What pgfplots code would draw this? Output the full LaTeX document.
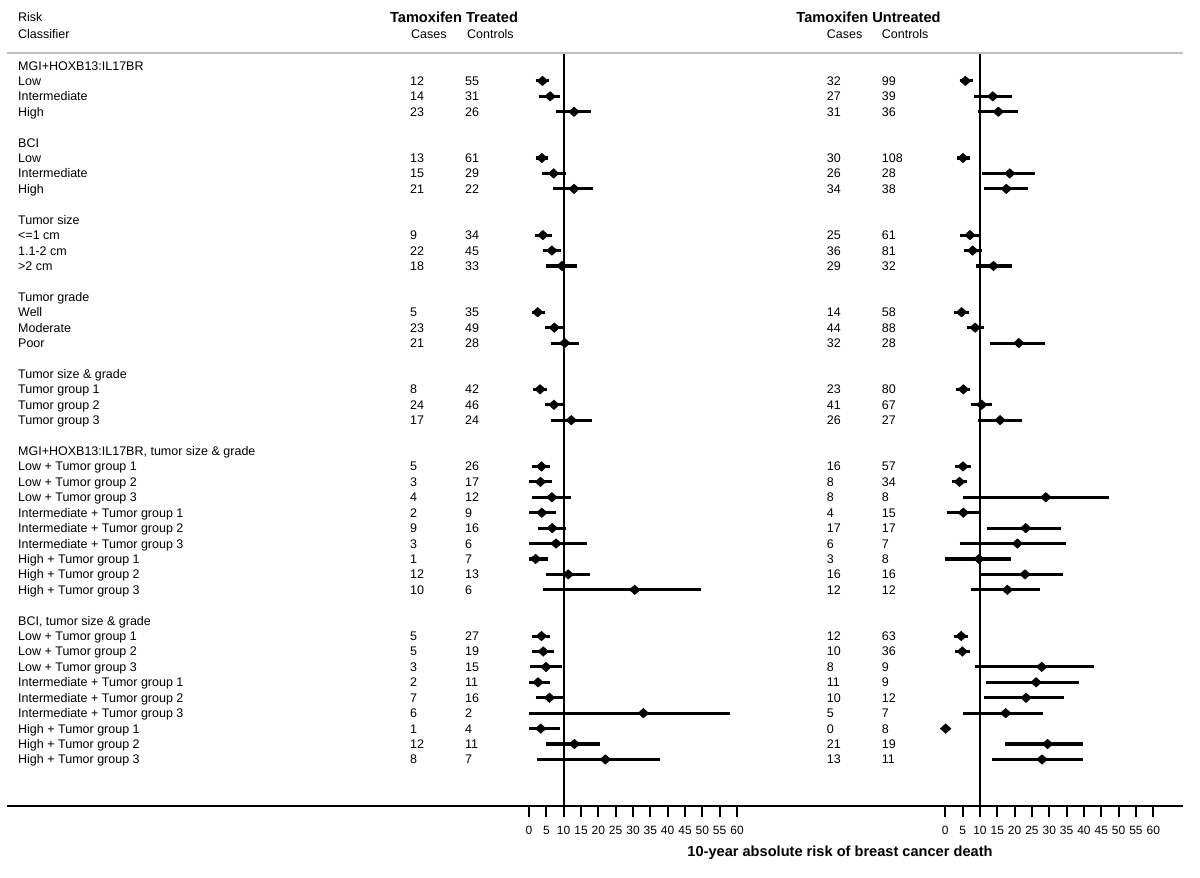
\documentclass[border=0pt]{standalone}
\usepackage{fontspec}
\setmainfont{Liberation Sans}
\usepackage{pgfplots}
\usepackage{pgfplotstable}
\pgfplotsset{compat=1.18}
\definecolor{lgray}{RGB}{192,192,192}

% row = line index from the top; est = 10-year risk (%), lo/hi = CI
\pgfplotstableread{
row est lo hi
1 3.9 1.9 5.7
2 6.1 2.9 8.9
3 13.0 7.8 17.9
6 3.7 1.9 5.5
7 7.1 3.7 10.6
8 13.0 6.9 18.6
11 4.0 1.7 6.5
12 6.6 4.0 9.2
13 9.5 5.0 13.9
16 2.5 0.9 4.5
17 7.3 4.6 9.9
18 10.3 6.3 14.5
21 3.2 1.2 5.1
22 7.2 4.6 9.9
23 12.2 6.3 18.1
26 3.6 0.9 6.0
27 3.3 0.1 6.5
28 6.6 0.9 12.0
29 3.7 0.0 7.8
30 6.7 2.5 10.8
31 7.8 0.0 16.6
32 1.9 0.0 5.4
33 11.3 5.0 17.5
34 30.5 4.1 49.7
37 3.6 0.9 6.0
38 4.1 0.9 7.2
39 4.9 0.2 9.5
40 2.6 0.0 6.0
41 5.9 1.9 9.8
42 33.0 0.0 58.1
43 3.4 0.0 8.8
44 13.1 4.8 20.5
45 22.0 2.2 37.9
}\treated

\pgfplotstableread{
row est lo hi
1 5.8 4.1 7.9
2 13.7 8.3 19.2
3 15.3 9.4 20.9
6 5.1 3.4 7.0
7 18.6 10.7 26.0
8 17.6 11.1 23.8
11 7.1 4.3 10.0
12 7.9 5.4 10.5
13 13.9 8.8 19.1
16 4.7 2.6 6.9
17 8.6 6.2 11.2
18 21.2 13.0 28.7
21 5.2 3.2 7.2
22 10.5 7.5 13.6
23 15.8 9.5 22.0
26 5.1 2.9 7.4
27 4.1 1.9 6.4
28 29.0 5.0 47.3
29 5.2 0.4 9.7
30 23.2 11.9 33.3
31 20.8 4.1 34.8
32 9.7 0.0 18.9
33 23.0 10.2 33.9
34 17.9 7.5 27.2
37 4.6 2.6 6.5
38 4.9 2.8 7.2
39 27.8 8.7 42.9
40 26.2 11.6 38.5
41 23.3 11.1 34.1
42 17.4 5.0 28.2
43 0.1 0.1 0.1
44 29.5 17.3 39.8
45 27.9 13.6 39.8
}\untreated

\pgfplotsset{forest/.style={
  scale only axis, width=208pt, height=753pt, anchor=south west,
  xmin=0, xmax=60, ymin=-48.02, ymax=0.81,
  hide y axis, axis x line=bottom, x axis line style={draw=none},
  xtick={0,5,...,60}, xtick align=outside, major tick length=11pt,
  tick style={black, line width=1.8pt},
  xticklabel style={font=\fontsize{12}{12}\selectfont, yshift=-5pt},
  /pgf/number format/assume math mode=true,
  clip=false,
}}
\pgfplotsset{cilines/.style={black, line width=3.1pt, mark=none, forget plot,
  quiver={u=\thisrow{hi}-\thisrow{lo}, v=0}}}
\pgfplotsset{points/.style={only marks, black, mark=diamond*, mark size=4.8pt,
  mark options={xscale=1.5, fill=black, draw=black}}}

\begin{document}
\fontsize{12.5}{15}\selectfont
\begin{tikzpicture}
\begin{axis}[forest, at={(529pt,-806pt)}]
  \addplot[black, line width=2pt, forget plot] coordinates {(10,-48.02) (10,0.81)};
  \addplot[cilines] table[x=lo, y expr=-\thisrow{row}] {\treated};
  \addplot[points] table[x=est, y expr=-\thisrow{row}] {\treated};
\end{axis}
\begin{axis}[forest, at={(945.3pt,-806pt)}]
  \addplot[black, line width=2pt, forget plot] coordinates {(10,-48.02) (10,0.81)};
  \addplot[cilines] table[x=lo, y expr=-\thisrow{row}] {\untreated};
  \addplot[points] table[x=est, y expr=-\thisrow{row}] {\untreated};
\end{axis}

\begin{scope}[x=1pt, y=-1pt, every node/.style={inner sep=0pt, font=\fontsize{12.5}{15}\selectfont}]
  \draw[lgray, line width=2pt] (7,52.5) -- (1183,52.5);
  \draw[black, line width=2.4pt] (7,806) -- (1183,806);

  \node[anchor=base west] at (18,21.5) {Risk};
  \node[anchor=base west] at (18,38.5) {Classifier};
  \node[anchor=base, font=\bfseries\fontsize{14.6}{16}\selectfont] at (454,22.5) {Tamoxifen Treated};
  \node[anchor=base, font=\bfseries\fontsize{14.6}{16}\selectfont] at (868.5,22.5) {Tamoxifen Untreated};
  \node[anchor=base west] at (411,38.5) {Cases};
  \node[anchor=base west] at (467,38.5) {Controls};
  \node[anchor=base west] at (826.7,38.5) {Cases};
  \node[anchor=base west] at (881.7,38.5) {Controls};
  \node[anchor=base, font=\bfseries\fontsize{14.6}{16}\selectfont] at (840,856) {10-year absolute risk of breast cancer death};

  \foreach \k/\t in {0/{MGI+HOXB13:IL17BR}, 1/Low, 2/Intermediate, 3/High,
     5/BCI, 6/Low, 7/Intermediate, 8/High,
     10/Tumor size, 11/{<=1 cm}, 12/{1.1-2 cm}, 13/{>2 cm},
     15/Tumor grade, 16/Well, 17/Moderate, 18/Poor,
     20/{Tumor size \& grade}, 21/Tumor group 1, 22/Tumor group 2, 23/Tumor group 3,
     25/{MGI+HOXB13:IL17BR, tumor size \& grade},
     26/Low + Tumor group 1, 27/Low + Tumor group 2, 28/Low + Tumor group 3,
     29/Intermediate + Tumor group 1, 30/Intermediate + Tumor group 2, 31/Intermediate + Tumor group 3,
     32/High + Tumor group 1, 33/High + Tumor group 2, 34/High + Tumor group 3,
     36/{BCI, tumor size \& grade},
     37/Low + Tumor group 1, 38/Low + Tumor group 2, 39/Low + Tumor group 3,
     40/Intermediate + Tumor group 1, 41/Intermediate + Tumor group 2, 42/Intermediate + Tumor group 3,
     43/High + Tumor group 1, 44/High + Tumor group 2, 45/High + Tumor group 3}
  { \node[anchor=base west] at (18,{70+15.42*\k}) {\t}; }

  \foreach \k/\a/\b in {1/12/55, 2/14/31, 3/23/26, 6/13/61, 7/15/29, 8/21/22,
     11/9/34, 12/22/45, 13/18/33, 16/5/35, 17/23/49, 18/21/28,
     21/8/42, 22/24/46, 23/17/24, 26/5/26, 27/3/17, 28/4/12, 29/2/9, 30/9/16,
     31/3/6, 32/1/7, 33/12/13, 34/10/6, 37/5/27, 38/5/19, 39/3/15, 40/2/11,
     41/7/16, 42/6/2, 43/1/4, 44/12/11, 45/8/7}
  { \node[anchor=base west] at (410,{70+15.42*\k}) {\a};
    \node[anchor=base west] at (465,{70+15.42*\k}) {\b}; }

  \foreach \k/\a/\b in {1/32/99, 2/27/39, 3/31/36, 6/30/108, 7/26/28, 8/34/38,
     11/25/61, 12/36/81, 13/29/32, 16/14/58, 17/44/88, 18/32/28,
     21/23/80, 22/41/67, 23/26/27, 26/16/57, 27/8/34, 28/8/8, 29/4/15, 30/17/17,
     31/6/7, 32/3/8, 33/16/16, 34/12/12, 37/12/63, 38/10/36, 39/8/9, 40/11/9,
     41/10/12, 42/5/7, 43/0/8, 44/21/19, 45/13/11}
  { \node[anchor=base west] at (826.7,{70+15.42*\k}) {\a};
    \node[anchor=base west] at (881.7,{70+15.42*\k}) {\b}; }
\end{scope}

\pgfresetboundingbox
\path[use as bounding box] (0,0) rectangle (1200pt,-878pt);
\end{tikzpicture}
\end{document}
